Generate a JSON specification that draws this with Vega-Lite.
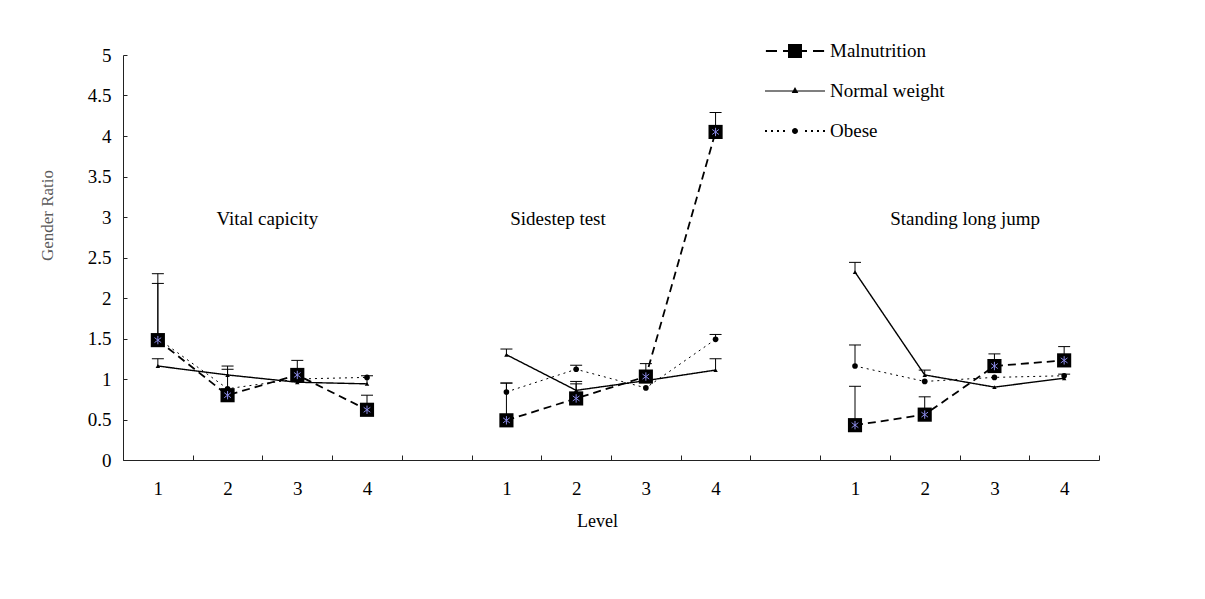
{
  "$schema": "https://vega.github.io/schema/vega-lite/v6.json",
  "width": 976,
  "height": 405,
  "autosize": {"type": "none"},
  "padding": {"left": 123, "top": 55, "right": 106, "bottom": 139},
  "background": "white",
  "config": {
    "view": {"stroke": null},
    "font": "Liberation Serif",
    "axis": {"grid": false, "domainColor": "#222222", "tickColor": "#222222", "labelColor": "black", "labelFont": "Liberation Serif", "titleFont": "Liberation Serif", "titleFontWeight": "normal"}
  },
  "datasets": {
    "main": [
      {"test": "Vital capicity", "pos": 1, "series": "Malnutrition", "ratio": 1.48, "upper": 2.30},
      {"test": "Vital capicity", "pos": 2, "series": "Malnutrition", "ratio": 0.80, "upper": null},
      {"test": "Vital capicity", "pos": 3, "series": "Malnutrition", "ratio": 1.05, "upper": 1.23},
      {"test": "Vital capicity", "pos": 4, "series": "Malnutrition", "ratio": 0.62, "upper": 0.80},
      {"test": "Vital capicity", "pos": 1, "series": "Normal weight", "ratio": 1.16, "upper": 1.25},
      {"test": "Vital capicity", "pos": 2, "series": "Normal weight", "ratio": 1.05, "upper": 1.16},
      {"test": "Vital capicity", "pos": 3, "series": "Normal weight", "ratio": 0.96, "upper": null},
      {"test": "Vital capicity", "pos": 4, "series": "Normal weight", "ratio": 0.94, "upper": 1.04},
      {"test": "Vital capicity", "pos": 1, "series": "Obese", "ratio": 1.50, "upper": 2.18},
      {"test": "Vital capicity", "pos": 2, "series": "Obese", "ratio": 0.88, "upper": 1.12},
      {"test": "Vital capicity", "pos": 3, "series": "Obese", "ratio": 1.00, "upper": null},
      {"test": "Vital capicity", "pos": 4, "series": "Obese", "ratio": 1.02, "upper": null},
      {"test": "Sidestep test", "pos": 6, "series": "Malnutrition", "ratio": 0.49, "upper": 0.95},
      {"test": "Sidestep test", "pos": 7, "series": "Malnutrition", "ratio": 0.76, "upper": 0.97},
      {"test": "Sidestep test", "pos": 8, "series": "Malnutrition", "ratio": 1.03, "upper": 1.19},
      {"test": "Sidestep test", "pos": 9, "series": "Malnutrition", "ratio": 4.05, "upper": 4.29},
      {"test": "Sidestep test", "pos": 6, "series": "Normal weight", "ratio": 1.30, "upper": 1.37},
      {"test": "Sidestep test", "pos": 7, "series": "Normal weight", "ratio": 0.86, "upper": 0.94},
      {"test": "Sidestep test", "pos": 8, "series": "Normal weight", "ratio": 0.98, "upper": null},
      {"test": "Sidestep test", "pos": 9, "series": "Normal weight", "ratio": 1.11, "upper": 1.25},
      {"test": "Sidestep test", "pos": 6, "series": "Obese", "ratio": 0.84, "upper": 0.95},
      {"test": "Sidestep test", "pos": 7, "series": "Obese", "ratio": 1.12, "upper": 1.17},
      {"test": "Sidestep test", "pos": 8, "series": "Obese", "ratio": 0.89, "upper": null},
      {"test": "Sidestep test", "pos": 9, "series": "Obese", "ratio": 1.49, "upper": 1.55},
      {"test": "Standing long jump", "pos": 11, "series": "Malnutrition", "ratio": 0.43, "upper": 0.91},
      {"test": "Standing long jump", "pos": 12, "series": "Malnutrition", "ratio": 0.56, "upper": 0.78},
      {"test": "Standing long jump", "pos": 13, "series": "Malnutrition", "ratio": 1.16, "upper": 1.31},
      {"test": "Standing long jump", "pos": 14, "series": "Malnutrition", "ratio": 1.23, "upper": 1.40},
      {"test": "Standing long jump", "pos": 11, "series": "Normal weight", "ratio": 2.32, "upper": 2.44},
      {"test": "Standing long jump", "pos": 12, "series": "Normal weight", "ratio": 1.05, "upper": 1.11},
      {"test": "Standing long jump", "pos": 13, "series": "Normal weight", "ratio": 0.90, "upper": null},
      {"test": "Standing long jump", "pos": 14, "series": "Normal weight", "ratio": 1.01, "upper": 1.06},
      {"test": "Standing long jump", "pos": 11, "series": "Obese", "ratio": 1.16, "upper": 1.42},
      {"test": "Standing long jump", "pos": 12, "series": "Obese", "ratio": 0.97, "upper": null},
      {"test": "Standing long jump", "pos": 13, "series": "Obese", "ratio": 1.02, "upper": null},
      {"test": "Standing long jump", "pos": 14, "series": "Obese", "ratio": 1.04, "upper": null}
    ],
    "labels": [
      {"label": "Vital capicity", "pos": 2.57, "ratio": 2.98},
      {"label": "Sidestep test", "pos": 6.74, "ratio": 2.98},
      {"label": "Standing long jump", "pos": 12.58, "ratio": 2.98}
    ]
  },
  "encoding": {
    "x": {
      "field": "pos",
      "type": "quantitative",
      "title": "Level",
      "scale": {"domain": [0.5, 14.5], "nice": false, "zero": false},
      "axis": {
        "values": [0.5, 1, 1.5, 2, 2.5, 3, 3.5, 4, 4.5, 5, 5.5, 6, 6.5, 7, 7.5, 8, 8.5, 9, 9.5, 10, 10.5, 11, 11.5, 12, 12.5, 13, 13.5, 14, 14.5],
        "labelExpr": "(datum.value % 1 !== 0 || datum.value % 5 === 0) ? '' : '' + (datum.value % 5)",
        "tickOpacity": {"condition": {"test": "datum.value % 1 !== 0", "value": 1}, "value": 0},
        "tickSize": -5,
        "labelFontSize": 19,
        "labelPadding": 24,
        "labelOverlap": false,
        "labelFlush": false,
        "titleFontSize": 18,
        "titleColor": "black",
        "titlePadding": 14,
        "titleX": 474
      }
    },
    "y": {
      "field": "ratio",
      "type": "quantitative",
      "title": "Gender Ratio",
      "scale": {"domain": [0, 5], "nice": false},
      "axis": {
        "values": [0, 0.5, 1, 1.5, 2, 2.5, 3, 3.5, 4, 4.5, 5],
        "format": "~g",
        "tickSize": -4,
        "labelFontSize": 19,
        "labelPadding": 16,
        "titleFontSize": 17,
        "titleColor": "#5a5a5a",
        "titleX": -76,
        "titleY": 160,
        "titleAlign": "center",
        "titleBaseline": "middle"
      }
    }
  },
  "layer": [
    {
      "data": {"name": "main"},
      "mark": {"type": "line", "color": "black"},
      "encoding": {
        "detail": {"field": "test", "type": "nominal"},
        "strokeDash": {"field": "series", "type": "nominal", "legend": null, "scale": {"range": [[8, 5], [1, 0], [2, 4]]}},
        "strokeWidth": {"field": "series", "type": "nominal", "legend": null, "scale": {"range": [1.8, 1, 2]}}
      }
    },
    {
      "data": {"name": "main"},
      "transform": [{"filter": "isValid(datum.upper)"}],
      "mark": {"type": "rule", "color": "black", "strokeWidth": 1},
      "encoding": {"y2": {"field": "upper"}}
    },
    {
      "data": {"name": "main"},
      "transform": [{"filter": "isValid(datum.upper)"}],
      "mark": {"type": "tick", "orient": "horizontal", "color": "black", "size": 12, "thickness": 1, "opacity": 1},
      "encoding": {"y": {"field": "upper", "type": "quantitative"}}
    },
    {
      "data": {"name": "main"},
      "transform": [{"filter": "datum.series === 'Malnutrition'"}],
      "mark": {"type": "point", "shape": "square", "size": 200, "filled": true, "color": "black", "opacity": 1}
    },
    {
      "data": {"name": "main"},
      "transform": [{"filter": "datum.series === 'Normal weight'"}],
      "mark": {"type": "point", "shape": "triangle-up", "size": 20, "filled": true, "color": "black", "opacity": 1}
    },
    {
      "data": {"name": "main"},
      "transform": [{"filter": "datum.series === 'Obese'"}],
      "mark": {"type": "point", "shape": "circle", "size": 32, "filled": true, "color": "black", "opacity": 1}
    },
    {
      "data": {"name": "main"},
      "transform": [{"filter": "datum.series === 'Malnutrition'"}],
      "mark": {"type": "point", "filled": false, "shape": "M0,-1V1M-0.8,-0.6L0.8,0.6M-0.8,0.6L0.8,-0.6", "color": "#8a8ae6", "size": 70, "strokeWidth": 1, "opacity": 1}
    },
    {
      "data": {"name": "main"},
      "mark": {"type": "point", "filled": true, "fill": "black", "stroke": "black", "strokeWidth": 1.2, "opacity": 0},
      "encoding": {
        "shape": {
          "field": "series",
          "type": "nominal",
          "scale": {
            "domain": ["Malnutrition", "Normal weight", "Obese"],
            "range": [
              "M-0.97,-0.03H-0.6V0.03H-0.97ZM-0.4,-0.03H0.4V0.03H-0.4ZM0.6,-0.03H0.97V0.03H0.6ZM-0.233,-0.233H0.233V0.233H-0.233Z",
              "M-1,-0.018H1V0.018H-1ZM0,-0.13L0.11,0.07H-0.11Z",
              "M-1,-0.033H-0.933V0.033H-1ZM-0.8,-0.033H-0.733V0.033H-0.8ZM-0.6,-0.033H-0.533V0.033H-0.6ZM-0.4,-0.033H-0.333V0.033H-0.4ZM0.333,-0.033H0.4V0.033H0.333ZM0.533,-0.033H0.6V0.033H0.533ZM0.733,-0.033H0.8V0.033H0.733ZM0.933,-0.033H1V0.033H0.933ZM-0.1,0A0.1,0.1,0,1,1,0.1,0A0.1,0.1,0,1,1,-0.1,0Z"
            ]
          },
          "legend": {
            "title": null,
            "orient": "none",
            "legendX": 642,
            "legendY": -34,
            "padding": 0,
            "symbolSize": 3600,
            "symbolStrokeWidth": 0,
            "symbolFillColor": "black",
            "symbolOpacity": 1,
            "labelFont": "Liberation Serif",
            "labelFontSize": 19,
            "labelColor": "black",
            "labelOffset": 5,
            "rowPadding": -13
          }
        }
      }
    },
    {
      "data": {"name": "labels"},
      "mark": {"type": "text", "fontSize": 19, "font": "Liberation Serif", "color": "black", "align": "center", "baseline": "middle"},
      "encoding": {"text": {"field": "label", "type": "nominal"}}
    }
  ]
}
